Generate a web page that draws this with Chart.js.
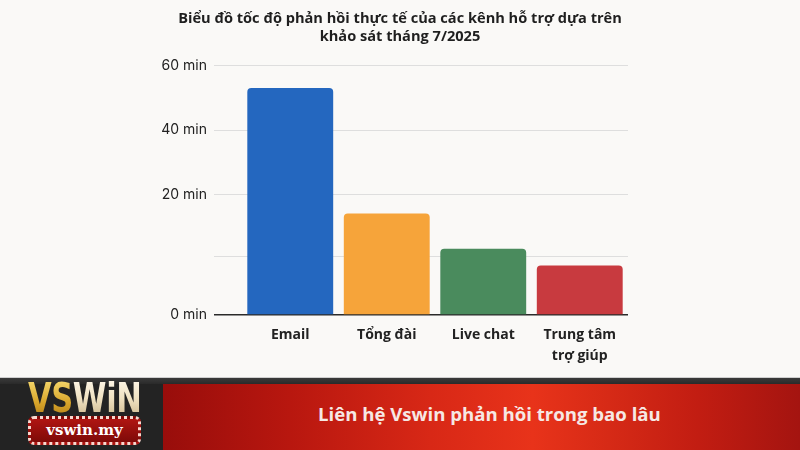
<!DOCTYPE html>
<html lang="vi">
<head>
<meta charset="utf-8">
<script src="https://cdn.jsdelivr.net/npm/chart.js@4"></script>
<style>
  html, body { margin: 0; padding: 0; }
  body { width: 800px; height: 450px; background: #faf9f7; position: relative; overflow: hidden; font-family: "Open Sans", sans-serif; }
  #chart-wrap { position: absolute; left: 0; top: 0; width: 800px; height: 377px; }
  #banner { position: absolute; left: 0; top: 377px; width: 800px; height: 73px; background: #232323; border-top: 1px solid #cfcfcf; box-sizing: border-box; }
  #strip { position: absolute; left: 0; top: 0; width: 800px; height: 6px; background: linear-gradient(#3a3a3a, #2a2a2a); }
  #red { position: absolute; left: 163px; top: 6px; right: 0; bottom: 0;
    background: linear-gradient(90deg, #980d0b 0%, #b8170f 20%, #d82816 42%, #e8331a 58%, #d62a16 70%, #c21d12 84%, #a41410 100%); }
  #red span { position: absolute; left: 155px; top: 17px; color: #f6e8e4; font: bold 18.6px "Open Sans", sans-serif; white-space: nowrap; }
  #logo { position: absolute; left: 28px; top: 5px; width: 113px; }
  .brand { font: bold 40px "Liberation Sans Narrow", "DejaVu Sans Condensed", sans-serif; line-height: 30px; height: 31px; letter-spacing: -0.5px; white-space: nowrap;
    transform: scaleX(0.85); transform-origin: left center; }
  .vs { background: linear-gradient(#fbe27a, #d8a52a 60%, #b07a14); -webkit-background-clip: text; background-clip: text; color: transparent; }
  .win { background: linear-gradient(#fffaf0, #f0e2c2 50%, #c9b388); -webkit-background-clip: text; background-clip: text; color: transparent; }
  .domain { margin-top: 2px; height: 29px; box-sizing: border-box; border: 3px dotted #f8d8cf; border-radius: 6px;
    background: linear-gradient(#b01612, #7e0a08); color: #fff; font: bold 15px "DejaVu Serif", "Liberation Serif", serif;
    text-align: center; line-height: 22px; }
</style>
</head>
<body>
<div id="chart-wrap"><canvas id="chart"></canvas></div>
<div id="banner">
  <div id="strip"></div>
  <div id="logo">
    <div class="brand"><span class="vs">VS</span><span class="win">WiN</span></div>
    <div class="domain">vswin.my</div>
  </div>
  <div id="red"><span>Liên hệ Vswin phản hồi trong bao lâu</span></div>
</div>
<script>
const TITLE = ["Biểu đồ tốc độ phản hồi thực tế của các kênh hỗ trợ dựa trên", "khảo sát tháng 7/2025"];
const CATEGORIES = [["Email"], ["Tổng đài"], ["Live chat"], ["Trung tâm", "trợ giúp"]];
const RESPONSE_MIN = [53, 17, 11.3, 8.5];
const BAR_COLORS = ["#2467bf", "#f6a43a", "#4a8b5d", "#c83a3f"];
const Y_TICKS = [0, 10, 20, 40, 60];
const Y_TICK_LABELS = ["0 min", "", "20 min", "40 min", "60 min"];

// the picture's value axis is not linear: each tick sits at its own height
const Y_TICK_POS = [0, 0.233, 0.481, 0.74, 1];

function toDecimal(v) {
    if (v <= Y_TICKS[0]) return Y_TICK_POS[0];
    for (let i = 1; i < Y_TICKS.length; i++) {
        if (v <= Y_TICKS[i]) {
            const t = (v - Y_TICKS[i - 1]) / (Y_TICKS[i] - Y_TICKS[i - 1]);
            return Y_TICK_POS[i - 1] + t * (Y_TICK_POS[i] - Y_TICK_POS[i - 1]);
        }
    }
    return 1;
}
function fromDecimal(d) {
    for (let i = 1; i < Y_TICK_POS.length; i++) {
        if (d <= Y_TICK_POS[i]) {
            const t = (d - Y_TICK_POS[i - 1]) / (Y_TICK_POS[i] - Y_TICK_POS[i - 1]);
            return Y_TICKS[i - 1] + t * (Y_TICKS[i] - Y_TICKS[i - 1]);
        }
    }
    return Y_TICKS[Y_TICKS.length - 1];
}

class PiecewiseScale extends Chart.LinearScale {
    buildTicks() { return Y_TICKS.map((v) => ({ value: v })); }
    getPixelForValue(value) { return this.getPixelForDecimal(toDecimal(value)); }
    getValueForPixel(pixel) { return fromDecimal(this.getDecimalForPixel(pixel)); }
}
PiecewiseScale.id = "piecewise";
PiecewiseScale.defaults = Chart.LinearScale.defaults;
Chart.register(PiecewiseScale);

const ctx = document.getElementById("chart").getContext("2d");
new Chart(ctx, {
    type: "bar",
    data: {
        labels: CATEGORIES,
        datasets: [{ data: RESPONSE_MIN, backgroundColor: BAR_COLORS, borderRadius: 4, borderSkipped: "bottom", categoryPercentage: 1, barPercentage: 0.89 }],
    },
    options: {
        responsive: true, maintainAspectRatio: false, animation: false,
        layout: { padding: { left: 0, right: 0, top: 0, bottom: 0 } },
        plugins: {
            legend: { display: false }, tooltip: { enabled: false },
            title: { display: true, text: TITLE, color: "#1f1f1f", font: { family: "Open Sans", size: 14.6, weight: "bold", lineHeight: 1.28 }, padding: { top: 9, bottom: 19 } },
        },
        scales: {
            x: {
                grid: { display: false, drawTicks: false }, border: { display: false },
                ticks: { color: "#222", padding: 10, font: { family: "Open Sans", size: 14, weight: "bold", lineHeight: 1.5 } },
            },
            y: {
                type: "piecewise", min: 0, max: 60,
                border: { display: false },
                afterFit: (s) => { s.width = 242; },
                grid: {
                    color: (c) => c.tick && c.tick.value === 0 ? "#2a2a2a" : "#dedede",
                    tickColor: (c) => c.tick && c.tick.value === 0 ? "#2a2a2a" : "#dedede",
                    lineWidth: (c) => c.tick && c.tick.value === 0 ? 1.5 : 1,
                    tickLength: 28,
                },
                ticks: { color: "#222", padding: 7, font: { family: "Inter", size: 14 }, callback: (v, i) => Y_TICK_LABELS[i] },
            },
            // empty right-hand axis keeps the plot narrow while the title stays centred on the page
            yRight: {
                type: "linear", position: "right", display: true,
                grid: { display: false, drawTicks: false }, border: { display: false },
                ticks: { display: false },
                afterFit: (s) => { s.width = 172; },
            },
        },
    },
});
</script>
</body>
</html>
